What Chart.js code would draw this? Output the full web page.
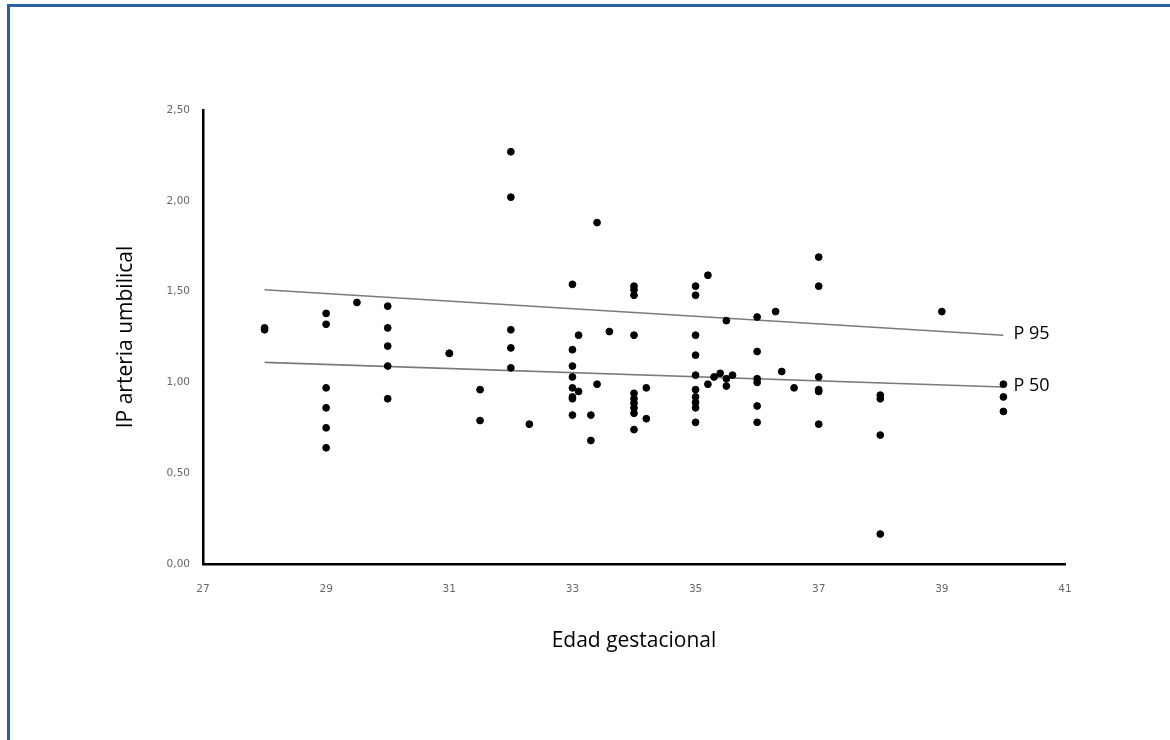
<!DOCTYPE html>
<html lang="es">
<head>
  <meta charset="UTF-8">
  <title>IP arteria umbilical – Edad gestacional</title>
  <script src="https://cdn.jsdelivr.net/npm/chart.js"></script>
  <style>
    body { margin: 0; background: #fff; }
    #wrap { position: relative; width: 1170px; height: 740px; overflow: hidden; }
    #frame { position: absolute; left: 7px; top: 4px; width: 1200px; height: 800px;
             border-top: 3px solid #2b5fa6; border-left: 3px solid #2b5fa6; }
    canvas { position: absolute; left: 0; top: 0; }
  </style>
</head>
<body>
  <div id="wrap">
    <div id="frame"></div>
    <canvas id="chart" width="1170" height="740"></canvas>
  </div>

  <script>
    // edad gestacional (semanas) y IP de la arteria umbilical, punto a punto
    const gestAge = [
      28, 28,
      29, 29, 29, 29, 29, 29,
      29.5,
      30, 30, 30, 30, 30,
      31, 31,
      31.5, 31.5,
      32, 32, 32, 32, 32,
      32.3,
      33, 33, 33, 33, 33, 33, 33, 33,
      33.1, 33.1,
      33.3, 33.3,
      33.4, 33.4,
      33.6,
      34, 34, 34, 34, 34, 34, 34, 34, 34, 34,
      34.2, 34.2,
      35, 35, 35, 35, 35, 35, 35, 35, 35, 35,
      35.2, 35.2,
      35.3, 35.4,
      35.5, 35.5, 35.5,
      35.6,
      36, 36, 36, 36, 36, 36,
      36.3, 36.4, 36.6,
      37, 37, 37, 37, 37, 37,
      38, 38, 38, 38,
      39,
      40, 40, 40
    ];
    const ipValues = [
      1.29, 1.30,
      1.38, 1.32, 0.97, 0.86, 0.75, 0.64,
      1.44,
      1.42, 1.30, 1.20, 1.09, 0.91,
      1.16, 1.16,
      0.96, 0.79,
      2.27, 2.02, 1.29, 1.19, 1.08,
      0.77,
      1.54, 1.18, 1.09, 1.03, 0.97, 0.92, 0.91, 0.82,
      1.26, 0.95,
      0.82, 0.68,
      1.88, 0.99,
      1.28,
      1.53, 1.51, 1.48, 1.26, 0.94, 0.91, 0.885, 0.86, 0.83, 0.74,
      0.97, 0.80,
      1.53, 1.48, 1.26, 1.15, 1.04, 0.96, 0.92, 0.89, 0.86, 0.78,
      1.59, 0.99,
      1.03, 1.05,
      1.34, 1.02, 0.98,
      1.04,
      1.36, 1.17, 1.02, 1.00, 0.87, 0.78,
      1.39, 1.06, 0.97,
      1.69, 1.53, 1.03, 0.96, 0.95, 0.77,
      0.93, 0.91, 0.71, 0.165,
      1.39,
      0.99, 0.92, 0.84
    ];

    // percentiles de referencia
    const pctAge = [28, 40];
    const p95Values = [1.51, 1.26];
    const p50Values = [1.11, 0.975];
    const pctLabels = ['P 95', 'P 50'];

    const toPoints = (xs, ys) => xs.map((x, i) => ({ x: x, y: ys[i] }));

    // etiqueta "P 95" / "P 50" al final de cada recta
    const endLabels = {
      id: 'endLabels',
      afterDatasetsDraw(chart) {
        const c = chart.ctx;
        c.save();
        c.font = '18px "Open Sans"';
        c.fillStyle = '#000';
        c.textAlign = 'left';
        c.textBaseline = 'middle';
        [1, 2].forEach((di, k) => {
          const meta = chart.getDatasetMeta(di);
          const last = meta.data[meta.data.length - 1];
          c.fillText(pctLabels[k], last.x + 10, last.y - 1);
        });
        c.restore();
      }
    };

    const tickFont = { family: 'DejaVu Sans', size: 10.5 };
    const titleFont = { family: 'Open Sans', size: 21 };

    new Chart(document.getElementById('chart'), {
      type: 'scatter',
      data: {
        datasets: [{
          data: toPoints(gestAge, ipValues),
          backgroundColor: '#000',
          borderColor: '#000',
          pointRadius: 3.4,
          pointHoverRadius: 3.4
        }, {
          data: toPoints(pctAge, p95Values),
          showLine: true,
          borderColor: '#7a7a7a',
          borderWidth: 1.6,
          pointRadius: 0
        }, {
          data: toPoints(pctAge, p50Values),
          showLine: true,
          borderColor: '#7a7a7a',
          borderWidth: 1.6,
          pointRadius: 0
        }]
      },
      options: {
        responsive: false,
        animation: false,
        layout: { padding: { left: 113, right: 105, top: 110, bottom: 86 } },
        plugins: { legend: { display: false }, tooltip: { enabled: false } },
        scales: {
          x: {
            type: 'linear',
            min: 27, max: 41,
            grid: { display: false, drawTicks: false },
            border: { display: true, color: '#000', width: 2.5 },
            ticks: { stepSize: 2, padding: 19, color: '#666', font: tickFont },
            title: { display: true, text: 'Edad gestacional', color: '#000',
                     font: titleFont, padding: 0 },
            afterFit: (s) => { s.height = 90; }
          },
          y: {
            min: 0, max: 2.5,
            grid: { display: false, drawTicks: false },
            border: { display: true, color: '#000', width: 2.5 },
            ticks: {
              stepSize: 0.5, padding: 13, color: '#666', font: tickFont,
              callback: (v) => v.toFixed(2).replace('.', ',')
            },
            title: { display: true, text: 'IP arteria umbilical', color: '#000',
                     font: titleFont, padding: 0 },
            afterFit: (s) => { s.width = 90; }
          }
        }
      },
      plugins: [endLabels]
    });
  </script>
</body>
</html>
